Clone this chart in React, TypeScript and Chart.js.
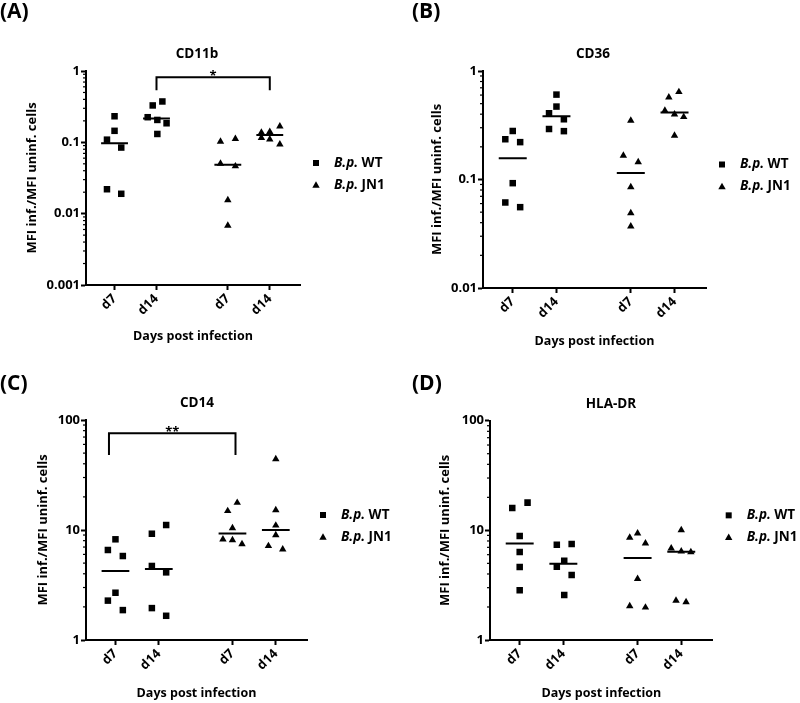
import { useEffect, useRef } from "react";
import { Chart, registerables } from "chart.js";

Chart.register(...registerables);

const FONT = "'Open Sans', sans-serif";
const WEIGHT = 700;

// x categories (two groups with a gap between them)
const TICK_POS = [0, 1, 2.7, 3.7];
const TICK_LABELS = ["d7", "d14", "d7", "d14"];
const SERIES = ["B.p. WT", "B.p. JN1"];

// y tick labels (log decades)
const Y_TICKS_A = [0.001, 0.01, 0.1, 1];
const Y_TICKS_B = [0.01, 0.1, 1];
const Y_TICKS_CD = [1, 10, 100];

// CD11b
const CD11B_WT_D7 = [0.232, 0.145, 0.109, 0.0845, 0.022, 0.019];
const CD11B_WT_D7_JIT = [0, 0, -0.18, 0.16, -0.18, 0.16];
const CD11B_WT_D14 = [0.374, 0.329, 0.225, 0.206, 0.185, 0.131];
const CD11B_WT_D14_JIT = [0.14, -0.09, -0.21, 0.02, 0.24, 0.02];
const CD11B_JN1_D7 = [0.112, 0.1025, 0.0504, 0.0463, 0.0155, 0.0068];
const CD11B_JN1_D7_JIT = [0.18, -0.175, -0.175, 0.18, 0, 0];
const CD11B_JN1_D14 = [0.168, 0.14, 0.137, 0.116, 0.11, 0.094];
const CD11B_JN1_D14_JIT = [0.24, 0, -0.2, -0.2, 0, 0.24];

// CD36
const CD36_WT_D7 = [0.28, 0.235, 0.221, 0.0925, 0.0614, 0.0556];
const CD36_WT_D7_JIT = [0, -0.17, 0.17, 0, -0.17, 0.17];
const CD36_WT_D14 = [0.606, 0.47, 0.408, 0.359, 0.292, 0.279];
const CD36_WT_D14_JIT = [0, 0, -0.17, 0.17, -0.17, 0.17];
const CD36_JN1_D7 = [0.349, 0.166, 0.145, 0.085, 0.049, 0.037];
const CD36_JN1_D7_JIT = [0, -0.17, 0.17, 0, 0, 0];
const CD36_JN1_D14 = [0.641, 0.573, 0.432, 0.399, 0.377, 0.254];
const CD36_JN1_D14_JIT = [0.1, -0.13, -0.22, 0, 0.21, 0];

// CD14
const CD14_WT_D7 = [8.23, 6.58, 5.8, 2.69, 2.28, 1.87];
const CD14_WT_D7_JIT = [0, -0.175, 0.17, 0, -0.175, 0.17];
const CD14_WT_D14 = [11.1, 9.25, 4.71, 4.12, 1.95, 1.66];
const CD14_WT_D14_JIT = [0.17, -0.16, -0.16, 0.17, -0.16, 0.17];
const CD14_JN1_D7 = [17.7, 14.9, 10.4, 8.23, 8.11, 7.46];
const CD14_JN1_D7_JIT = [0.11, -0.11, 0, -0.22, 0, 0.22];
const CD14_JN1_D14 = [44.2, 15.2, 11.0, 9.0, 7.16, 6.68];
const CD14_JN1_D14_JIT = [0, 0, 0, 0, -0.17, 0.16];

// HLA-DR
const HLADR_WT_D7 = [17.9, 16.0, 8.87, 6.34, 4.63, 2.84];
const HLADR_WT_D7_JIT = [0.18, -0.17, 0, 0, 0, 0];
const HLADR_WT_D14 = [7.5, 7.4, 5.28, 4.66, 3.92, 2.57];
const HLADR_WT_D14_JIT = [0.19, -0.15, 0.02, -0.15, 0.19, 0.02];
const HLADR_JN1_D7 = [9.4, 8.58, 7.6, 3.62, 2.04, 1.98];
const HLADR_JN1_D7_JIT = [0, -0.18, 0.18, 0, -0.18, 0.18];
const HLADR_JN1_D14 = [10.07, 6.85, 6.44, 6.34, 2.29, 2.22];
const HLADR_JN1_D14_JIT = [0, -0.23, 0, 0.22, -0.12, 0.11];

type Group = [number[], number[]]; // values, jitter

type Panel = {
  tag: string;
  title: string;
  yTicks: number[];
  wt: Group[];
  jn: Group[];
  bracket?: { x: [number, number]; y: [number, number]; text: string };
  // layout
  left: number; top: number; w: number; h: number;
  area: { left: number; right: number; top: number; bottom: number };
  titleX: number; tagX: number; tagY: number;
  yTitlePad: number; xTitlePad: number;
};

const PANELS: Panel[] = [
  {
    tag: "(A)", title: "CD11b", yTicks: Y_TICKS_A,
    wt: [[CD11B_WT_D7, CD11B_WT_D7_JIT], [CD11B_WT_D14, CD11B_WT_D14_JIT]],
    jn: [[CD11B_JN1_D7, CD11B_JN1_D7_JIT], [CD11B_JN1_D14, CD11B_JN1_D14_JIT]],
    bracket: { x: [1, 3.7], y: [0.536, 0.82], text: "*" },
    left: 0, top: 0, w: 400, h: 350,
    area: { left: 86, right: 300, top: 71, bottom: 285 },
    titleX: 197, tagX: 0, tagY: 12, yTitlePad: 24.5, xTitlePad: 5.8,
  },
  {
    tag: "(B)", title: "CD36", yTicks: Y_TICKS_B,
    wt: [[CD36_WT_D7, CD36_WT_D7_JIT], [CD36_WT_D14, CD36_WT_D14_JIT]],
    jn: [[CD36_JN1_D7, CD36_JN1_D7_JIT], [CD36_JN1_D14, CD36_JN1_D14_JIT]],
    left: 400, top: 0, w: 400, h: 350,
    area: { left: 83, right: 306, top: 71, bottom: 288 },
    titleX: 193, tagX: 12, tagY: 12, yTitlePad: 29.5, xTitlePad: 0.8,
  },
  {
    tag: "(C)", title: "CD14", yTicks: Y_TICKS_CD,
    wt: [[CD14_WT_D7, CD14_WT_D7_JIT], [CD14_WT_D14, CD14_WT_D14_JIT]],
    jn: [[CD14_JN1_D7, CD14_JN1_D7_JIT], [CD14_JN1_D14, CD14_JN1_D14_JIT]],
    bracket: { x: [-0.15, 2.77], y: [48, 75.7], text: "**" },
    left: 0, top: 350, w: 400, h: 353,
    area: { left: 86, right: 307, top: 70, bottom: 290 },
    titleX: 197, tagX: 0, tagY: 34, yTitlePad: 35.5, xTitlePad: 2.5,
  },
  {
    tag: "(D)", title: "HLA-DR", yTicks: Y_TICKS_CD,
    wt: [[HLADR_WT_D7, HLADR_WT_D7_JIT], [HLADR_WT_D14, HLADR_WT_D14_JIT]],
    jn: [[HLADR_JN1_D7, HLADR_JN1_D7_JIT], [HLADR_JN1_D14, HLADR_JN1_D14_JIT]],
    left: 400, top: 350, w: 400, h: 353,
    area: { left: 90, right: 312.7, top: 70.7, bottom: 290 },
    titleX: 211, tagX: 12, tagY: 34, yTitlePad: 37.5, xTitlePad: 2.5,
  },
];

const median = (v: number[]) => {
  const s = [...v].sort((a, b) => a - b);
  const m = Math.floor(s.length / 2);
  return s.length % 2 ? s[m] : (s[m - 1] + s[m]) / 2;
};

const points = (groups: Group[], start: number) =>
  groups.flatMap(([vals, jit], g) =>
    vals.map((y, i) => ({ x: TICK_POS[start + g] + jit[i], y })));

const decor = (p: Panel) => ({
  id: "decor",
  afterDraw(chart: any) {
    const { ctx, chartArea: a } = chart;
    const ys = chart.scales.y;
    const xs = chart.scales.x;
    ctx.save();
    ctx.fillStyle = "#000";
    ctx.strokeStyle = "#000";

    // minor log ticks
    ctx.lineWidth = 1.2;
    p.yTicks.slice(0, -1).forEach((d) => {
      for (let k = 2; k < 10; k++) {
        const py = ys.getPixelForValue(k * d);
        ctx.beginPath();
        ctx.moveTo(a.left - 3, py);
        ctx.lineTo(a.left, py);
        ctx.stroke();
      }
    });

    // panel title and tag
    ctx.textBaseline = "middle";
    ctx.textAlign = "center";
    ctx.font = `${WEIGHT} 13.5px ${FONT}`;
    ctx.fillText(p.title, p.titleX, a.top - 17);
    ctx.textAlign = "left";
    ctx.font = `${WEIGHT} 21px ${FONT}`;
    ctx.fillText(p.tag, p.tagX, p.tagY);

    // significance stars
    if (p.bracket) {
      const b = p.bracket;
      const mid = (xs.getPixelForValue(b.x[0]) + xs.getPixelForValue(b.x[1])) / 2;
      ctx.textAlign = "center";
      ctx.textBaseline = "alphabetic";
      ctx.font = `${WEIGHT} 13px ${FONT}`;
      ctx.fillText(b.text, mid, ys.getPixelForValue(b.y[1]) + 3);
    }

    // legend
    const lx = a.right + 16;
    const cy = (a.top + a.bottom) / 2 - 4;
    SERIES.forEach((label, i) => {
      const ry = cy + (i ? 11 : -11);
      if (i === 0) {
        ctx.fillRect(lx - 3, ry - 3, 6, 6);
      } else {
        ctx.beginPath();
        ctx.moveTo(lx, ry - 3.8);
        ctx.lineTo(lx + 3.7, ry + 2.7);
        ctx.lineTo(lx - 3.7, ry + 2.7);
        ctx.closePath();
        ctx.fill();
      }
      const [abbr, strain] = label.split(" ");
      ctx.textAlign = "left";
      ctx.textBaseline = "middle";
      ctx.font = `italic ${WEIGHT} 13.5px ${FONT}`;
      ctx.fillText(abbr, lx + 18, ry);
      const w = ctx.measureText(abbr + " ").width;
      ctx.font = `${WEIGHT} 13.5px ${FONT}`;
      ctx.fillText(strain, lx + 18 + w, ry);
    });
    ctx.restore();
  },
});

function PanelChart({ p }: { p: Panel }) {
  const canvasRef = useRef<HTMLCanvasElement>(null);

  useEffect(() => {
    if (!canvasRef.current) return;
    const groups = [...p.wt, ...p.jn];
    const medianLine = groups.flatMap(([vals], g) => {
      const m = median(vals);
      const c = TICK_POS[g];
      return [{ x: c - 0.32, y: m }, { x: c + 0.32, y: m }, { x: c, y: null }];
    });
    const datasets: any[] = [
      {
        type: "scatter", label: SERIES[0], data: points(p.wt, 0),
        pointStyle: "rect", pointRadius: 4.6, backgroundColor: "#000", borderWidth: 0,
      },
      {
        type: "scatter", label: SERIES[1], data: points(p.jn, 2),
        pointStyle: "triangle", pointRadius: 4.3, backgroundColor: "#000", borderWidth: 0,
      },
      {
        type: "line", label: "median", data: medianLine, borderColor: "#000",
        borderWidth: 2, pointRadius: 0, spanGaps: false, fill: false,
      },
    ];
    if (p.bracket) {
      const b = p.bracket;
      datasets.push({
        type: "line", label: "bracket",
        data: [
          { x: b.x[0], y: b.y[0] }, { x: b.x[0], y: b.y[1] },
          { x: b.x[1], y: b.y[1] }, { x: b.x[1], y: b.y[0] },
        ],
        borderColor: "#000", borderWidth: 2, pointRadius: 0, fill: false,
        borderJoinStyle: "miter", clip: false,
      });
    }

    const tickFont = { family: FONT, size: 13, weight: WEIGHT };
    const titleFont = { family: FONT, size: 12.5, weight: WEIGHT };
    const chart = new Chart(canvasRef.current, {
      type: "scatter",
      data: { datasets },
      options: {
        animation: false,
        responsive: false,
        events: [],
        layout: { padding: { left: 0, right: p.w - p.area.right, top: p.area.top, bottom: 0 } },
        plugins: { legend: { display: false }, tooltip: { enabled: false } },
        scales: {
          x: {
            type: "linear", min: -0.68, max: 4.42,
            afterBuildTicks: (s: any) => { s.ticks = TICK_POS.map((value) => ({ value })); },
            afterFit: (s: any) => { s.height = p.h - p.area.bottom; },
            ticks: {
              autoSkip: false, minRotation: 45, maxRotation: 45, padding: 1,
              color: "#000", font: tickFont,
              callback: (_v: any, i: number) => TICK_LABELS[i],
            },
            grid: { display: true, drawOnChartArea: false, drawTicks: true, tickLength: 5, tickWidth: 2, tickColor: "#000" },
            border: { display: true, color: "#000", width: 2 },
            title: {
              display: true, text: "Days post infection", color: "#000", font: titleFont,
              padding: { top: 0, bottom: p.xTitlePad },
            },
          },
          y: {
            type: "logarithmic",
            min: p.yTicks[0], max: p.yTicks[p.yTicks.length - 1],
            afterBuildTicks: (s: any) => { s.ticks = p.yTicks.map((value) => ({ value })); },
            afterFit: (s: any) => { s.width = p.area.left; },
            ticks: { color: "#000", font: tickFont, padding: 1, callback: (v: any) => String(v) },
            grid: { display: true, drawOnChartArea: false, drawTicks: true, tickLength: 5, tickWidth: 2, tickColor: "#000" },
            border: { display: true, color: "#000", width: 2 },
            title: {
              display: true, text: "MFI inf./MFI uninf. cells", color: "#000", font: tickFont,
              padding: { top: p.yTitlePad, bottom: 0 },
            },
          },
        },
      },
      plugins: [decor(p)],
    } as any);

    return () => { chart.destroy(); };
  }, [p]);

  return (
    <canvas
      ref={canvasRef}
      width={p.w}
      height={p.h}
      style={{ position: "absolute", left: p.left, top: p.top, width: p.w, height: p.h }}
    />
  );
}

export default function App() {
  return (
    <div style={{ position: "absolute", left: 0, top: 0, width: 800, height: 703, background: "#fff" }}>
      {PANELS.map((p) => <PanelChart key={p.tag} p={p} />)}
    </div>
  );
}
